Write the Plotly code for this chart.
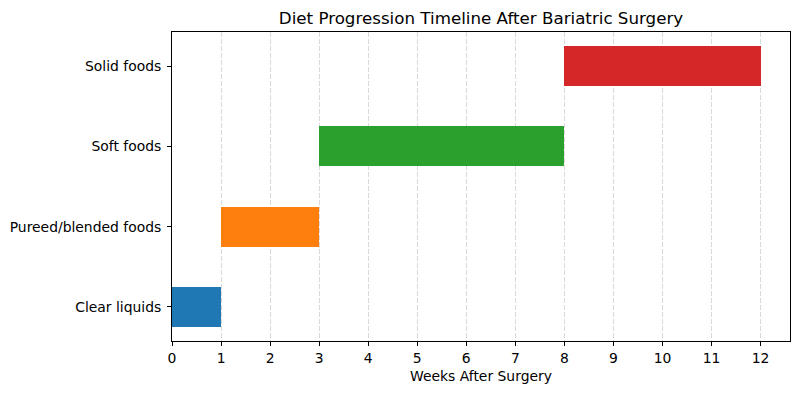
import plotly.graph_objects as go

stages = ["Clear liquids", "Pureed/blended foods", "Soft foods", "Solid foods"]
start_weeks = [0, 1, 3, 8]
end_weeks = [1, 3, 8, 12]
colors = ["#1f77b4", "#ff7f0e", "#2ca02c", "#d62728"]
xticks = list(range(0, 13))

durations = [e - s for s, e in zip(start_weeks, end_weeks)]

fig = go.Figure()
for i, (st, s, d, c) in enumerate(zip(stages, start_weeks, durations, colors)):
    fig.add_trace(go.Bar(
        y=[i], x=[d], base=[s], orientation="h", width=0.5,
        marker=dict(color=c, line=dict(width=0)), showlegend=False,
        name=st,
    ))

W, H = 785, 377
fig.update_layout(
    width=W, height=H,
    margin=dict(l=163, r=2, t=24, b=44),
    paper_bgcolor="white", plot_bgcolor="white",
    font=dict(family="DejaVu Sans", size=13.9, color="black"),
    title=dict(text="Diet Progression Timeline After Bariatric Surgery",
               x=0.5, xanchor="center", xref="paper",
               y=1 - 10 / H, yanchor="middle",
               font=dict(size=16.7)),
    xaxis=dict(
        range=[0, 12.6], tickvals=xticks, ticktext=[str(t) for t in xticks],
        showgrid=True, gridcolor="#d9d9d9", griddash="5px,2px", gridwidth=1,
        showline=True, linecolor="black", linewidth=1, mirror=True,
        ticks="outside", ticklen=4, tickcolor="black",
        zeroline=False, layer="above traces",
        title=dict(text="Weeks After Surgery", font=dict(size=13.9), standoff=6),
    ),
    yaxis=dict(
        range=[-0.425, 3.425], tickvals=list(range(len(stages))), ticktext=stages,
        showgrid=False, showline=True, linecolor="black", linewidth=1, mirror=True,
        ticks="outside", ticklen=4, tickcolor="black", zeroline=False,
        ticklabelstandoff=3,
    ),
    bargap=0,
)

fig.write_html("out.html")
